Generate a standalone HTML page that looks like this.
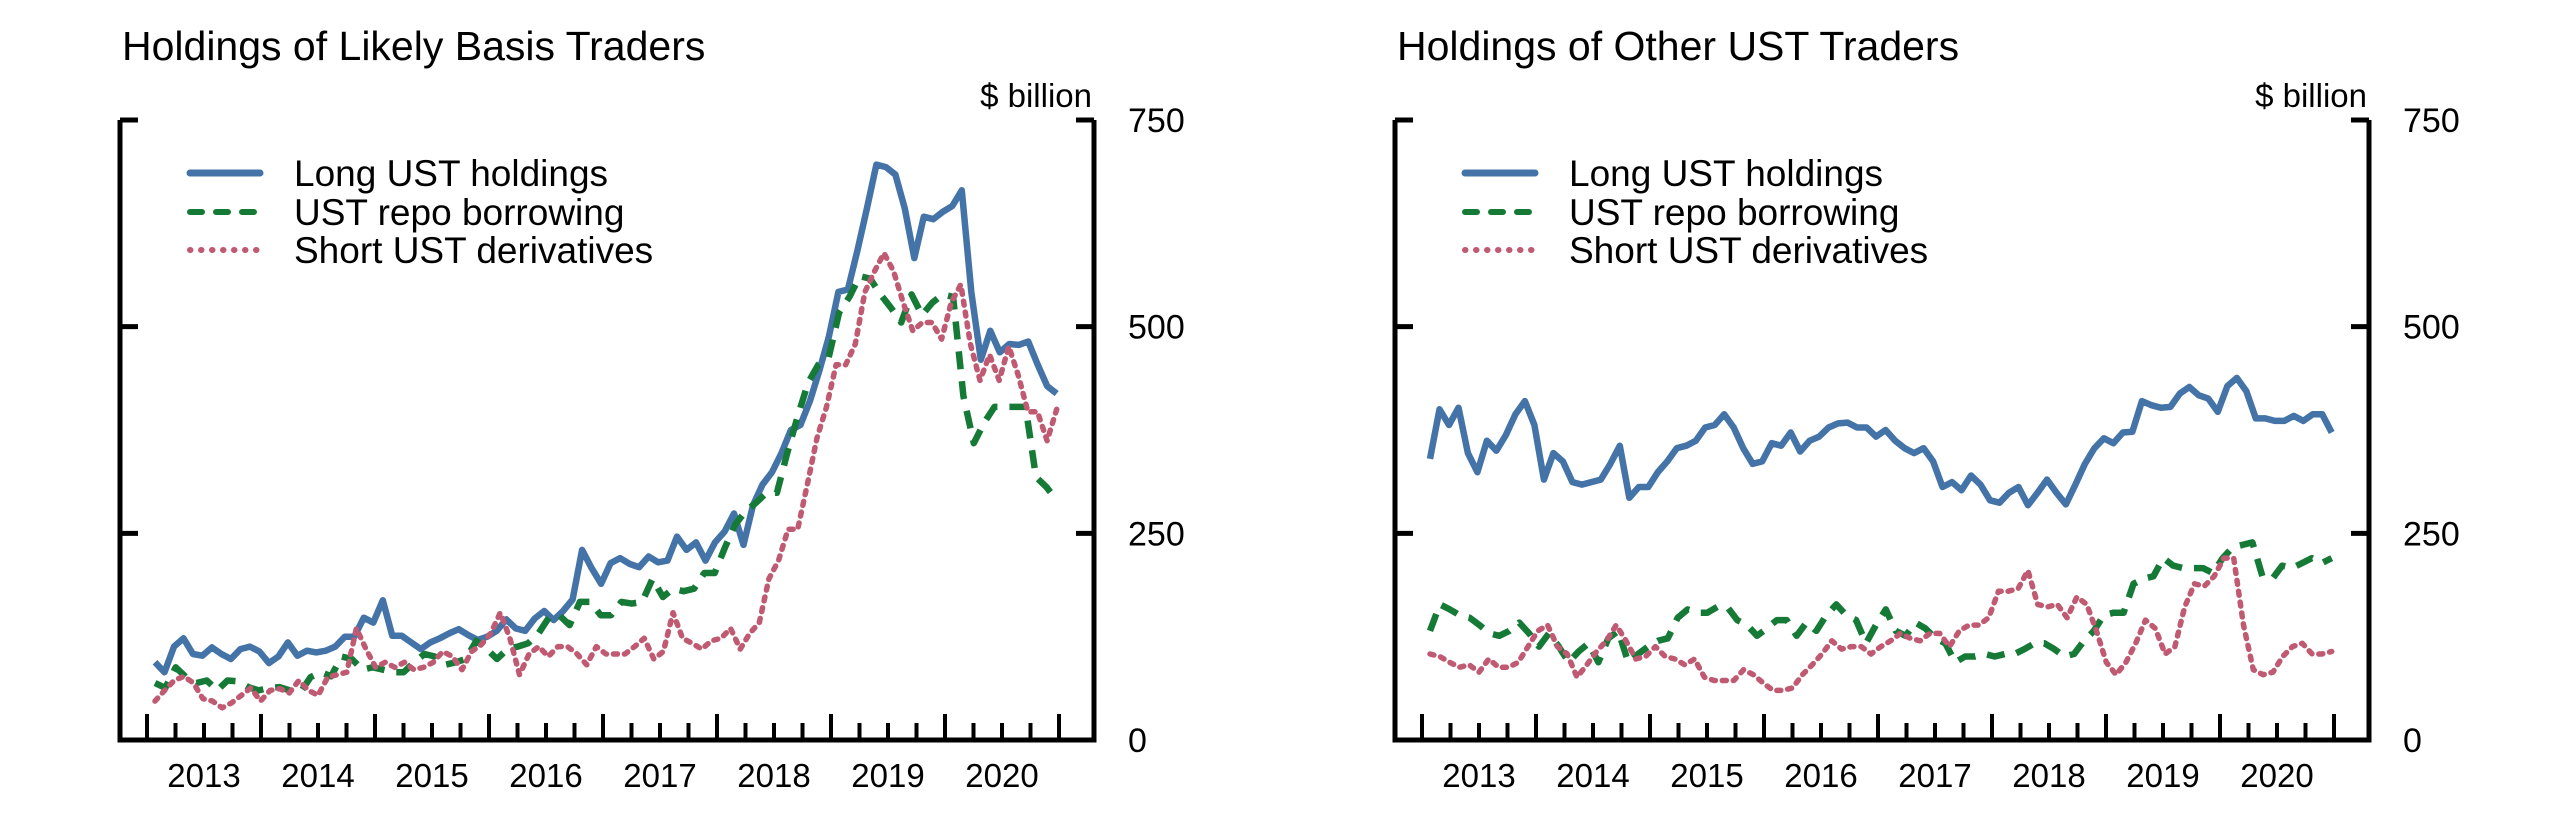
<!DOCTYPE html>
<html><head><meta charset="utf-8"><style>
html,body{margin:0;padding:0;background:#fff;}
svg{display:block;font-family:"Liberation Sans",Arial,sans-serif;}
</style></head><body>
<svg id="chart" width="2550" height="816" viewBox="0 0 2550 816" xmlns="http://www.w3.org/2000/svg"></svg>
<script>
const years = [2013,2014,2015,2016,2017,2018,2019,2020];
const yTicks = [0,250,500,750];
const seriesNames = ["Long UST holdings","UST repo borrowing","Short UST derivatives"];
const basisLong = [94,82,113,123,104,102,112,104,98,110,113,107,93,101,118,102,108,106,108,113,125,125,148,142,169,126,126,118,110,118,123,129,134,127,121,125,132,146,135,132,147,156,145,156,170,230,208,189,214,220,213,209,222,215,217,246,230,239,217,239,252,274,236,284,309,324,347,375,381,410,447,488,542,545,592,643,696,693,684,643,583,633,630,639,646,665,542,460,495,469,479,478,482,454,428,419];
const basisRepo = [69,63,88,76,69,72,60,72,71,64,60,63,64,60,57,76,82,77,101,98,85,88,85,82,82,94,104,101,91,94,98,120,110,98,110,113,117,129,148,151,139,167,167,151,151,167,165,167,195,173,183,180,183,202,202,233,261,277,287,299,299,347,391,432,454,463,517,536,561,558,539,523,505,539,514,529,539,536,416,359,384,403,403,403,403,318,306,290];
const basisShort = [47,60,72,77,69,50,47,39,45,54,63,47,60,62,57,72,60,54,76,79,82,135,110,88,94,88,94,85,88,94,107,101,85,107,115,129,154,123,79,104,113,101,113,113,104,91,113,104,104,104,113,123,98,107,154,123,117,110,120,123,135,110,129,142,195,217,255,255,309,365,403,454,454,479,542,567,589,567,529,495,505,505,485,529,551,479,435,466,435,476,441,397,397,362,400];
const otherLong = [340,400,381,402,347,324,362,350,369,394,410,381,315,347,337,312,309,312,315,334,356,293,306,306,324,337,353,356,362,378,381,394,378,353,334,337,359,356,372,349,362,367,378,383,384,378,378,367,375,362,353,347,353,337,306,312,302,320,309,290,287,299,306,284,299,315,299,285,309,334,353,365,359,372,373,410,405,402,403,419,427,417,413,397,428,438,422,389,389,386,386,392,386,394,394,372];
const otherRepo = [132,164,158,151,148,139,129,126,132,142,129,113,129,113,94,107,117,94,123,132,94,104,113,120,123,148,158,154,154,161,161,145,139,126,135,145,145,126,142,132,151,164,151,145,117,139,158,132,126,142,135,123,117,94,101,101,104,101,104,104,110,117,117,110,101,104,120,132,151,154,154,189,195,198,220,211,208,208,208,202,220,233,236,239,198,195,211,208,214,220,214,220];
const otherShort = [104,101,94,88,91,82,98,88,88,94,113,132,139,113,104,76,91,107,120,139,120,98,101,113,101,98,91,98,76,72,72,72,85,79,69,60,60,63,79,91,104,120,110,113,113,104,113,120,129,123,120,129,129,113,132,139,139,148,180,180,183,205,164,161,164,148,173,164,132,94,79,94,117,145,135,104,113,161,189,186,198,220,220,139,85,79,82,101,113,117,104,104,107];

const svg = document.getElementById('chart');
const NS = 'http://www.w3.org/2000/svg';
function mk(tag, attrs, parent){const e=document.createElementNS(NS,tag);for(const k in attrs)e.setAttribute(k,attrs[k]);(parent||svg).appendChild(e);return e;}
const colors = ["#4473a8","#167a37","#c05a72"];
const dashes = ["", "18,12", "4,7"];

function drawPanel(ox, title, data, key){
  const x0=ox+120, x1=ox+1094, yT=120, yB=740;
  const t0=2013.0, t1=2021.0, tx0=ox+147, tx1=ox+1059;
  const xs = t => tx0 + (t - t0)/(t1 - t0)*(tx1 - tx0);
  const ys = v => yB - v/750*(yB - yT);
  const g = mk('g',{});
  
  
  const tt = mk('text',{x:x0+2,y:60,'font-size':41,fill:'#000'},g);
  tt.textContent = title;
  
  
  const un = mk('text',{x:x1-2,y:107,'font-size':33,'text-anchor':'end',fill:'#000'},g);
  un.textContent = '$ billion';
  
  
  const ax = mk('path',{d:`M${x0},${yT} V${yB} H${x1} V${yT}`,fill:'none',stroke:'#000','stroke-width':5},g);
  
  
  yTicks.forEach(v=>{
    const y=ys(v);
    if(v>0){
      mk('line',{x1:x0,x2:x0+18,y1:y,y2:y,stroke:'#000','stroke-width':5},g);
      mk('line',{x1:x1-18,x2:x1,y1:y,y2:y,stroke:'#000','stroke-width':5},g);
    }
    const l = mk('text',{x:x1+34,y:y+12,'font-size':34,fill:'#000'},g);
    l.textContent = v;
    
    
  });
  for(let q=0;q<=32;q++){
    const t=t0+q/4, x=xs(t), major=(q%4===0);
    mk('line',{x1:x,x2:x,y1:yB,y2:yB-(major?26:17),stroke:'#000','stroke-width':4},g);
  }
  years.forEach(yr=>{
    const l = mk('text',{x:xs(yr+0.5),y:787,'font-size':33,'text-anchor':'middle',fill:'#000'},g);
    l.textContent = yr;
    
    
  });
  data.forEach((arr,i)=>{
    const s0=2013.07, s1=2020.98;
    const pts = arr.map((v,j)=>xs(s0+(s1-s0)*j/(arr.length-1)).toFixed(1)+','+ys(v).toFixed(1)).join(' ');
    const p = mk('polyline',{points:pts,fill:'none',stroke:colors[i],'stroke-width':i===2?5.5:6.5,'stroke-linejoin':'round','stroke-linecap':i===2?'round':'butt'},g);
    if(dashes[i]) p.setAttribute('stroke-dasharray',dashes[i]);
    
    
  });
  const ly=[173,212,250];
  seriesNames.forEach((n,i)=>{
    const ln = mk('line',{x1:ox+190,x2:ox+260,y1:ly[i],y2:ly[i],stroke:colors[i],'stroke-width':i===0?7:6,'stroke-linecap':'round'},g);
    if(dashes[i]) ln.setAttribute('stroke-dasharray',i===1?'12,14':'0.5,10.5');
    
    
    const t = mk('text',{x:ox+294,y:ly[i]+13,'font-size':37,fill:'#000'},g);
    t.textContent = n;
    
    
  });
}
drawPanel(0, 'Holdings of Likely Basis Traders', [basisLong,basisRepo,basisShort], 'basis');
drawPanel(1275, 'Holdings of Other UST Traders', [otherLong,otherRepo,otherShort], 'other');
</script>
</body></html>
